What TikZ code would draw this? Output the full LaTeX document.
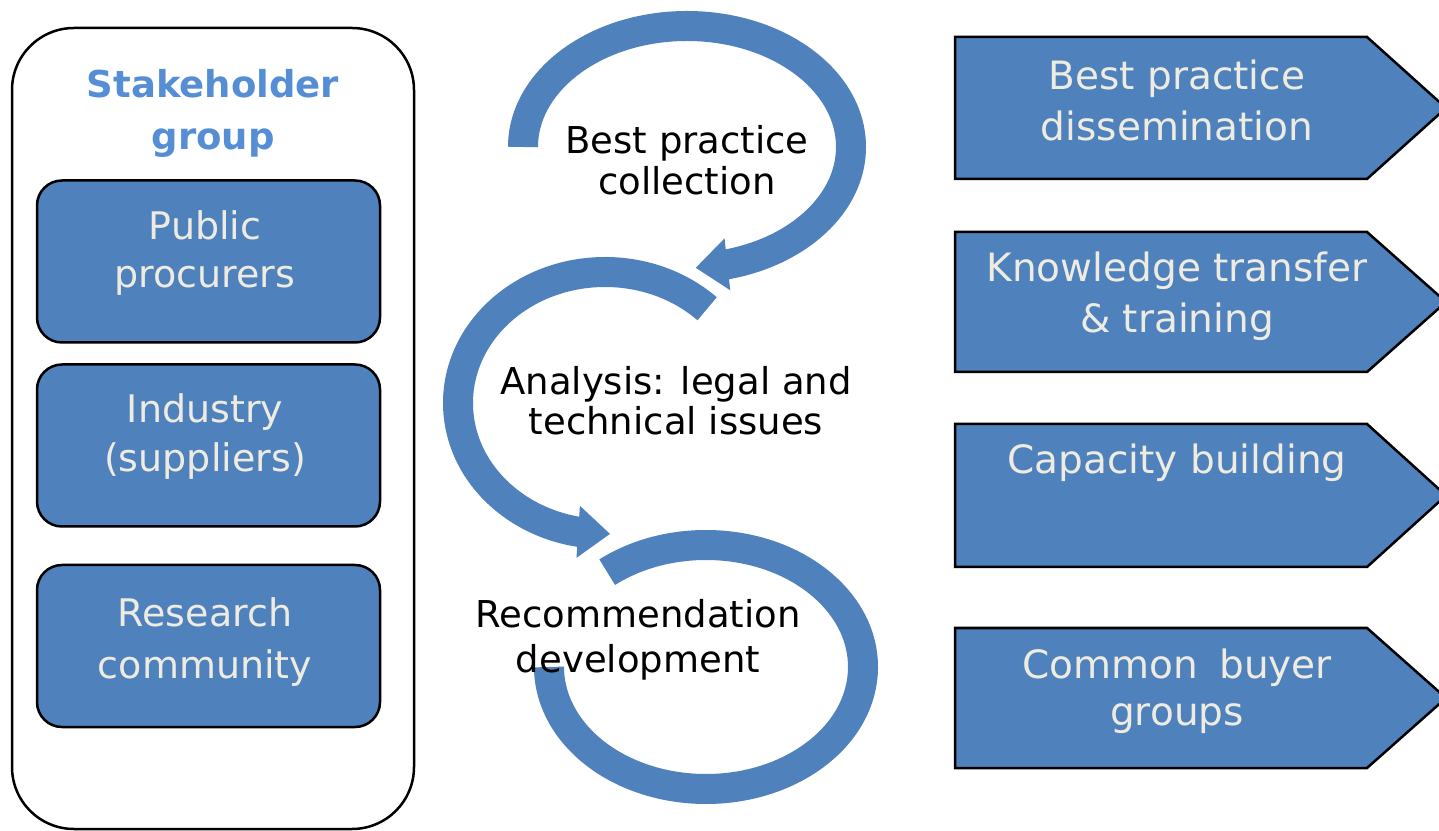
\documentclass[tikz,border=0pt]{standalone}
\usepackage{fontspec}
\setmainfont{DejaVu Sans}
\usetikzlibrary{arrows.meta,bending}
\definecolor{boxblue}{HTML}{4F81BD}
\definecolor{cream}{HTML}{EEECE1}
\definecolor{titleblue}{HTML}{558ED5}
\begin{document}
\begin{tikzpicture}[x=1pt,y=1pt,
  lbox/.style={draw=black,line width=2.5pt,fill=boxblue,rounded corners=25pt,minimum width=343pt,minimum height=162pt,inner sep=0pt,outer sep=0pt},
  btxt/.style={text=cream,font=\fontsize{38}{46}\selectfont,anchor=base,inner sep=0pt},
  rtxt/.style={text=cream,font=\fontsize{39}{46}\selectfont,anchor=base,inner sep=0pt},
  mtxt/.style={text=black,font=\fontsize{37}{44}\selectfont,anchor=base,inner sep=0pt},
  ttxt/.style={text=titleblue,font=\bfseries\fontsize{37}{44}\selectfont,anchor=base,inner sep=0pt},
  sig/.style={draw=black,line width=2.5pt,fill=boxblue,line join=miter},
  band/.style={draw=boxblue,line width=30pt},
  ahead/.style={-{Triangle[length=32pt,width=50pt,flex]}},
]
\useasboundingbox (0,0) rectangle (1439,830);
\clip (0,0) rectangle (1439,830);
\fill[white] (0,0) rectangle (1439,830);

% stakeholder group
\node[draw=black,line width=2.5pt,rounded corners=62pt,minimum width=402pt,minimum height=801pt,inner sep=0pt,outer sep=0pt] (group) at (213,401.5) {};
\node[ttxt] (gt1) at (213,732) {Stakeholder};
\node[ttxt] (gt2) at (213,680) {group};

\node[lbox] (pp) at (208.5,568.5) {};
\node[lbox] (ind) at (208.5,384.5) {};
\node[lbox] (res) at (208.5,184) {};
\node[btxt] (pp1) at (205,590) {Public};
\node[btxt] (pp2) at (205,542) {procurers};
\node[btxt] (ind1) at (205,407) {Industry};
\node[btxt] (ind2) at (205,358) {(suppliers)};
\node[btxt] (res1) at (205,204) {Research};
\node[btxt] (res2) at (205,152) {community};

% circular arrows
\draw[band,ahead] (523,683) arc[start angle=180,end angle=-87,x radius=164,y radius=121];
\draw[band,ahead] ({605+147*cos(46)},{427+131*sin(46)}) arc[start angle=46,end angle=272,x radius=147,y radius=131];
\draw[band] ({706+157*cos(129)},{163+122*sin(129)}) arc[start angle=129,end angle=-180,x radius=157,y radius=122];

\node[mtxt] (c1) at (687,676) {Best practice};
\node[mtxt] (c2) at (687,635) {collection};
\node[mtxt] (a1) at (676,435) {Analysis: legal and};
\node[mtxt] (a2) at (676,395) {technical issues};
\node[mtxt] (r1) at (638,202) {Recommendation};
\node[mtxt] (r2) at (638,158) {development};

% outputs
\draw[sig] (955,793) -- (1367,793) -- (1446,722) -- (1367,651) -- (955,651) -- cycle;
\draw[sig] (955,598) -- (1367,598) -- (1446,528) -- (1367,458) -- (955,458) -- cycle;
\draw[sig] (955,406) -- (1367,406) -- (1446,334.5) -- (1367,263) -- (955,263) -- cycle;
\draw[sig] (955,202) -- (1367,202) -- (1446,132) -- (1367,62) -- (955,62) -- cycle;
\node[rtxt] (o1a) at (1177,740) {Best practice};
\node[rtxt] (o1b) at (1177,689) {dissemination};
\node[rtxt] (o2a) at (1177,548) {Knowledge transfer};
\node[rtxt] (o2b) at (1177,497) {\& training};
\node[rtxt] (o3a) at (1177,356) {Capacity building};
\node[rtxt] (o4a) at (1177,152) {Common\hspace{0.55em}buyer};
\node[rtxt] (o4b) at (1177,105) {groups};
\end{tikzpicture}
\end{document}
